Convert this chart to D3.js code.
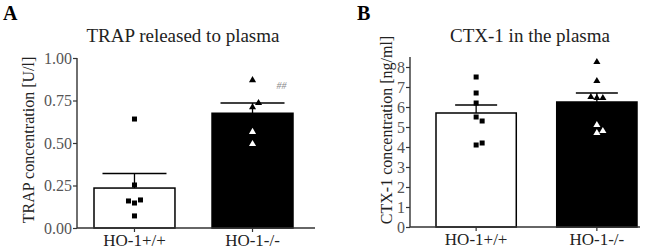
<!DOCTYPE html>
<html>
<head>
<meta charset="utf-8">
<script src="https://cdn.jsdelivr.net/npm/d3@7"></script>
<style>
body { margin: 0; background: #fff; }
svg text { font-family: "Liberation Serif", "Times New Roman", serif; }
</style>
</head>
<body>
<svg id="chart" width="660" height="250"></svg>
<script>
const groups = ["HO-1+/+", "HO-1-/-"];

// panel A - TRAP released to plasma
const trapMean = [0.235, 0.675];
const trapSem = [0.085, 0.06];
const trapWT = [0.641, 0.253, 0.147, 0.165, 0.159, 0.071];
const trapKO = [0.87, 0.71, 0.735, 0.565, 0.494];
const trapTicks = [0, 0.25, 0.5, 0.75, 1];

// panel B - CTX-1 in the plasma
const ctxMean = [5.7, 6.25];
const ctxSem = [0.4, 0.45];
const ctxWT = [7.5, 6.7, 6.2, 5.5, 5.3, 4.1, 4.2];
const ctxKO = [8.25, 7.3, 6.45, 6.45, 6.5, 5.1, 4.7, 4.8];
const ctxTicks = [0, 1, 2, 3, 4, 5, 6, 7, 8];

const svg = d3.select("#chart");
const axisColor = "#333";

const panels = [
    {
        letter: "A", letterX: 3,
        title: "TRAP released to plasma", titleX: 183,
        ylabel: "TRAP concentration [U/l]", ylabelX: 34, ylabelY: 140,
        axisX: 77, axisEnd: 315, band: [94, 293], pad: 0.314,
        yDomain: [0, 1], yRange: [228, 58], ticks: trapTicks, fmt: d3.format(".2f"),
        means: trapMean, sems: trapSem, points: [trapWT, trapKO], capHalf: 32,
        sig: "##"
    },
    {
        letter: "B", letterX: 357,
        title: "CTX-1 in the plasma", titleX: 530,
        ylabel: "CTX-1 concentration [ng/ml]", ylabelX: 392, ylabelY: 130,
        axisX: 410, axisEnd: 640, band: [436, 637], pad: 0.335,
        yDomain: [0, 8.5], yRange: [227, 57], ticks: ctxTicks, fmt: d3.format("d"),
        means: ctxMean, sems: ctxSem, points: [ctxWT, ctxKO], capHalf: 21,
        sig: null
    }
];

panels.forEach(p => {
    const g = svg.append("g");

    const x = d3.scaleBand().domain(groups).range(p.band).paddingInner(p.pad).paddingOuter(0);
    const y = d3.scaleLinear().domain(p.yDomain).range(p.yRange);
    const bw = x.bandwidth();

    // panel letter + title
    g.append("text").attr("x", p.letterX).attr("y", 20)
        .attr("font-size", "20px").attr("font-weight", "bold").text(p.letter);
    g.append("text").attr("x", p.titleX).attr("y", 42).attr("text-anchor", "middle")
        .attr("font-size", "19px").attr("fill", "#222").text(p.title);

    // y label
    g.append("text")
        .attr("transform", `translate(${p.ylabelX},${p.ylabelY}) rotate(-90)`)
        .attr("text-anchor", "middle").attr("font-size", "16px").attr("fill", "#222")
        .text(p.ylabel);

    // bars
    g.selectAll(".bar")
        .data(groups)
        .join("rect")
        .attr("class", "bar")
        .attr("x", d => x(d))
        .attr("width", bw)
        .attr("y", (d, i) => y(p.means[i]))
        .attr("height", (d, i) => y(0) - y(p.means[i]))
        .attr("fill", (d, i) => i === 0 ? "#fff" : "#000")
        .attr("stroke", "#000")
        .attr("stroke-width", 1.5);

    // error bars (upper only)
    groups.forEach((grp, i) => {
        const cx = x(grp) + bw / 2;
        const top = y(p.means[i] + p.sems[i]);
        g.append("line").attr("x1", cx).attr("x2", cx)
            .attr("y1", y(p.means[i])).attr("y2", top)
            .attr("stroke", "#000").attr("stroke-width", 1.3);
        g.append("line").attr("x1", cx - p.capHalf).attr("x2", cx + p.capHalf)
            .attr("y1", top).attr("y2", top)
            .attr("stroke", "#000").attr("stroke-width", 1.5);
    });

    // individual points, spread sideways when they overlap
    groups.forEach((grp, i) => {
        const cx = x(grp) + bw / 2;
        const placed = [];
        p.points[i].forEach(v => {
            const py = y(v);
            const k = placed.filter(q => Math.abs(q - py) < 5).length;
            placed.push(py);
            const dx = k === 0 ? 0 : (k % 2 ? 6 : -6) * Math.ceil(k / 2);
            const fill = (i === 1 && v < p.means[i]) ? "#fff" : "#000";
            if (i === 0) {
                g.append("rect").attr("x", cx + dx - 2.5).attr("y", py - 2.5)
                    .attr("width", 5).attr("height", 5).attr("fill", fill);
            } else {
                g.append("path")
                    .attr("d", d3.symbol(d3.symbolTriangle, 22))
                    .attr("transform", `translate(${cx + dx},${py})`)
                    .attr("fill", fill);
            }
        });
    });

    if (p.sig) {
        g.append("text")
            .attr("x", x(groups[1]) + bw / 2 + 24)
            .attr("y", y(p.means[1] + p.sems[1]) - 14)
            .attr("font-size", "10px").attr("font-style", "italic").attr("fill", "#888")
            .text(p.sig);
    }

    // y axis
    const yAxis = g.append("g")
        .attr("transform", `translate(${p.axisX},0)`)
        .call(d3.axisLeft(y).tickValues(p.ticks).tickFormat(p.fmt).tickSize(4).tickPadding(1).tickSizeOuter(0));
    yAxis.select(".domain").attr("stroke", axisColor).attr("stroke-width", 1.4)
        .attr("d", `M0,${y(0)}V${p.yRange[1]}`);
    yAxis.selectAll(".tick line").attr("stroke", axisColor).attr("stroke-width", 1.2);
    yAxis.selectAll(".tick text").attr("font-size", "16px").attr("fill", "#555")
        .attr("font-family", "Liberation Serif, serif");

    // x axis
    const xAxis = g.append("g")
        .attr("transform", `translate(0,${y(0)})`)
        .call(d3.axisBottom(x).tickSize(4).tickPadding(2).tickSizeOuter(0));
    xAxis.select(".domain").attr("stroke", axisColor).attr("stroke-width", 1.4)
        .attr("d", `M${p.axisX},0H${p.axisEnd}`);
    xAxis.selectAll(".tick line").attr("stroke", axisColor).attr("stroke-width", 1.2);
    xAxis.selectAll(".tick text").attr("font-size", "17px").attr("fill", "#222")
        .attr("font-family", "Liberation Serif, serif");
});
</script>
</body>
</html>
